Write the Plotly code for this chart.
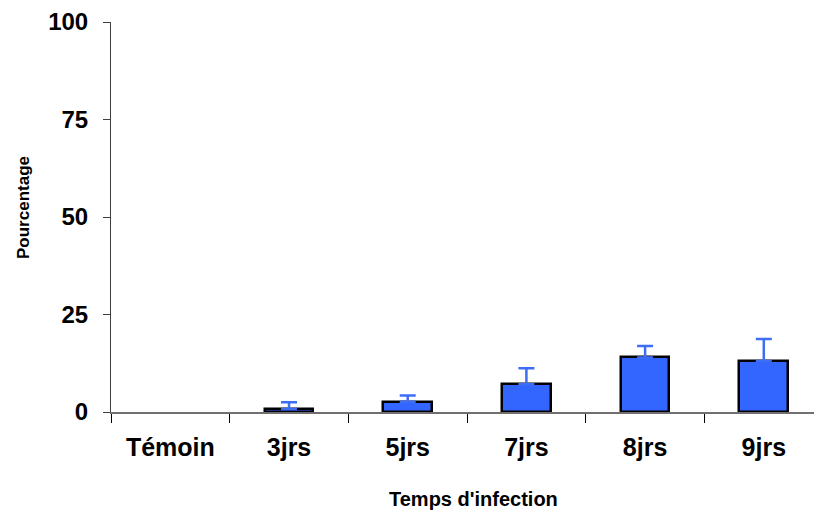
import plotly.graph_objects as go

# Infection-time categories and measured percentages
categories = ["Témoin", "3jrs", "5jrs", "7jrs", "8jrs", "9jrs"]
percentages = [0, 0.8, 2.6, 7.1, 14.0, 13.1]
errors_up = [0, 1.7, 1.6, 4.1, 2.9, 5.6]
y_ticks = [0, 25, 50, 75, 100]

BLUE = "#3366ff"
FONT = "Liberation Sans, Arial, sans-serif"

# only groups with a non-zero mean carry an error bar
err_idx = [i for i, v in enumerate(percentages) if v > 0]

fig = go.Figure()
fig.add_trace(go.Bar(
    x=categories,
    y=percentages,
    width=0.41,
    marker=dict(
        color=BLUE,
        line=dict(color="black", width=[0 if v == 0 else 2.5 for v in percentages]),
    ),
    hoverinfo="skip",
))
fig.add_trace(go.Scatter(
    x=[categories[i] for i in err_idx],
    y=[percentages[i] for i in err_idx],
    mode="markers",
    marker=dict(size=1, opacity=0),
    error_y=dict(
        type="data",
        symmetric=False,
        array=[errors_up[i] for i in err_idx],
        arrayminus=[0] * len(err_idx),
        color="#3d6ef5",
        thickness=2.5,
        width=8,
    ),
))

fig.update_layout(
    width=814,
    height=512,
    margin=dict(l=111, r=0, t=22, b=100),
    plot_bgcolor="white",
    paper_bgcolor="white",
    showlegend=False,
    bargap=0,
    font=dict(family=FONT, color="black"),
)

fig.update_xaxes(
    range=[-0.5, 5.423],
    showline=True,
    linecolor="#707070",
    linewidth=1.5,
    ticks="outside",
    tickson="boundaries",
    ticklen=9,
    tickcolor="black",
    tickwidth=1,
    ticklabelstandoff=12,
    tickfont=dict(family=FONT, size=25, weight="bold", color="black"),
    showgrid=False,
    zeroline=False,
)

fig.update_yaxes(
    range=[0, 100],
    tickvals=y_ticks,
    showline=True,
    linecolor="#404040",
    linewidth=1,
    ticks="outside",
    ticklen=7,
    tickcolor="#404040",
    ticklabelstandoff=10,
    tickfont=dict(family=FONT, size=24, weight="bold", color="black"),
    showgrid=False,
    zeroline=False,
)

fig.add_annotation(
    text="Temps d'infection", xref="paper", yref="paper",
    x=(473 - 111) / 703, y=-(499 - 412) / 390,
    xanchor="center", yanchor="middle", showarrow=False,
    font=dict(family=FONT, size=20, weight="bold", color="black"),
)
fig.add_annotation(
    text="Pourcentage", xref="paper", yref="paper",
    x=-(111 - 23) / 703, y=(412 - 208) / 390, textangle=-90,
    xanchor="center", yanchor="middle", showarrow=False,
    font=dict(family=FONT, size=17, weight="bold", color="black"),
)

fig.write_html("out.html")
